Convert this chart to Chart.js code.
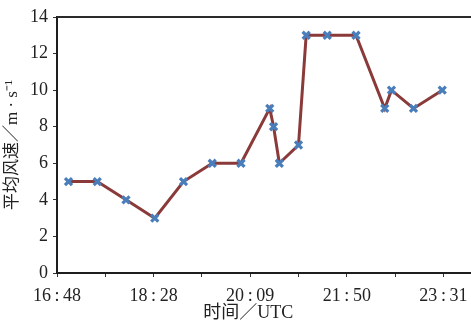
<!DOCTYPE html>
<html>
<head>
<meta charset="utf-8">
<script src="https://cdn.jsdelivr.net/npm/chart.js@4.4.1/dist/chart.umd.min.js"></script>
<style>
  html, body { margin: 0; padding: 0; background: #fff; }
  #wrap { width: 471px; height: 333px; }
</style>
</head>
<body>
<div id="wrap"><canvas id="c" width="471" height="333"></canvas></div>
<script>
// Observation times (UTC) and mean wind speed (m/s)
const times = ['17:00', '17:30', '18:00', '18:30', '19:00', '19:30', '20:00', '20:30', '20:34',
               '20:40', '21:00', '21:08', '21:30', '22:00', '22:30', '22:37', '23:00', '23:30'];
const speeds = [5, 5, 4, 3, 5, 6, 6, 9, 8, 6, 7, 13, 13, 13, 9, 10, 9, 10];

// Time axis: 16:48 to 24:00, a tick every 0.035 day, labels on every other tick
const axisStart = '16:48';
const axisEnd = '24:00';
const tickStepMin = 50.4;
const xTitle = '时间／UTC';

const toMin = s => { const [h, m] = s.split(':').map(Number); return h * 60 + m; };
const fmt = v => {
  const h = Math.floor(v / 60), m = Math.floor(v - h * 60 + 1e-6);
  return h + '\u2009:\u2009' + String(m).padStart(2, '0');
};

const xMin = toMin(axisStart), xMax = toMin(axisEnd);
const points = times.map((t, i) => ({ x: toMin(t), y: speeds[i] }));

const serif = '"Liberation Serif", "DejaVu Serif", serif';
const titleFont = '"Liberation Serif", "Noto Sans CJK SC", serif';

// Frame line along the top of the plot area
const topBorder = {
  id: 'topBorder',
  afterDraw(chart) {
    const { ctx, chartArea: a } = chart;
    ctx.save();
    ctx.strokeStyle = '#2a2a2a';
    ctx.lineWidth = 2;
    ctx.beginPath();
    ctx.moveTo(a.left, a.top);
    ctx.lineTo(a.right, a.top);
    ctx.stroke();
    ctx.restore();
  }
};

// Time-axis caption, centred under the labelled part of the axis
const xCaption = {
  id: 'xCaption',
  afterDraw(chart) {
    const { ctx } = chart;
    const xs = chart.scales.x;
    const cx = (xs.getPixelForValue(xMin) + xs.getPixelForValue(xMin + 8 * tickStepMin)) / 2 - 2;
    ctx.save();
    ctx.fillStyle = '#222';
    ctx.font = '18px ' + titleFont;
    ctx.textAlign = 'center';
    ctx.textBaseline = 'middle';
    ctx.fillText(xTitle, cx, 313);
    ctx.restore();
  }
};

new Chart(document.getElementById('c'), {
  type: 'line',
  data: {
    datasets: [{
      data: points,
      borderColor: '#8b3a3a',
      borderWidth: 3,
      tension: 0,
      pointStyle: 'crossRot',
      pointRadius: 5,
      pointBorderWidth: 3.2,
      pointBorderColor: '#4a7ebb',
      pointBackgroundColor: '#4a7ebb'
    }]
  },
  options: {
    responsive: false,
    animation: false,
    layout: { autoPadding: false, padding: { top: 17, right: 0, left: 0, bottom: 0 } },
    plugins: { legend: { display: false }, tooltip: { enabled: false } },
    scales: {
      x: {
        type: 'linear',
        min: xMin,
        max: xMax,
        afterBuildTicks(scale) {
          const ticks = [];
          for (let k = 0; xMin + k * tickStepMin <= xMax; k++) ticks.push({ value: xMin + k * tickStepMin });
          scale.ticks = ticks;
        },
        afterFit(scale) { scale.height = 60; scale.paddingRight = 0; scale.paddingLeft = 0; },
        border: { display: true, color: '#1e1e1e', width: 2 },
        grid: { drawOnChartArea: false, drawTicks: true, tickLength: 4, color: '#333', lineWidth: 1 },
        ticks: {
          autoSkip: false,
          maxRotation: 0,
          padding: 8,
          color: '#222',
          font: { family: serif, size: 18 },
          callback: (v, i) => (i % 2 === 0 ? fmt(v) : '')
        }
      },
      y: {
        min: 0,
        max: 14,
        afterFit(scale) { scale.width = 57; },
        border: { display: true, color: '#1e1e1e', width: 2 },
        grid: { drawOnChartArea: false, drawTicks: true, tickLength: 4, color: '#333', lineWidth: 1 },
        ticks: {
          stepSize: 2,
          padding: 5,
          color: '#222',
          font: { family: serif, size: 18 }
        },
        title: {
          display: true,
          text: '平均风速／m · s⁻¹',
          color: '#222',
          font: { family: titleFont, size: 17 },
          padding: { top: 2, bottom: 0 }
        }
      }
    }
  },
  plugins: [topBorder, xCaption]
});
</script>
</body>
</html>
